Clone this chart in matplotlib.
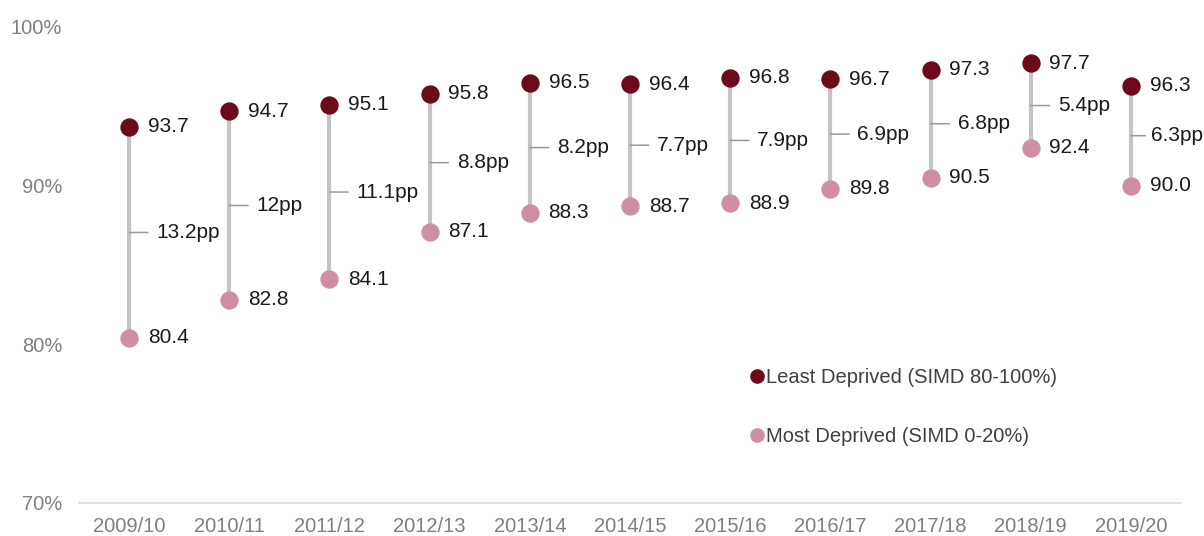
import matplotlib
matplotlib.use("Agg")
import matplotlib.pyplot as plt
from matplotlib.lines import Line2D

plt.rcParams['font.family'] = ['Liberation Sans', 'DejaVu Sans']

years = ["2009/10", "2010/11", "2011/12", "2012/13", "2013/14", "2014/15",
         "2015/16", "2016/17", "2017/18", "2018/19", "2019/20"]
least = [93.7, 94.7, 95.1, 95.8, 96.5, 96.4, 96.8, 96.7, 97.3, 97.7, 96.3]
most = [80.4, 82.8, 84.1, 87.1, 88.3, 88.7, 88.9, 89.8, 90.5, 92.4, 90.0]
gap_labels = ["13.2pp", "12pp", "11.1pp", "8.8pp", "8.2pp", "7.7pp",
              "7.9pp", "6.9pp", "6.8pp", "5.4pp", "6.3pp"]
y_ticks = [70, 80, 90, 100]

c_least = "#6a0a1b"
c_most = "#d08ea2"
c_line = "#c4c4c4"

fig = plt.figure(figsize=(12.04, 5.36), dpi=100)
ax = fig.add_axes([79/1204, 33/536, 1102/1204, 476/536])

x = list(range(len(years)))
n = len(years)
for i in x:
    ax.plot([i, i], [most[i], least[i]], color=c_line, lw=3, zorder=1,
            solid_capstyle='butt')
    mid = (most[i] + least[i]) / 2
    last = (i == n - 1)
    tick_len = 10.5 if last else 13.5
    lab_off = 14.5 if last else 19.5
    ax.annotate(gap_labels[i], xy=(i, mid), xytext=(lab_off, 0), textcoords='offset points',
                va='center', ha='left', fontsize=15, color="#1a1a1a")
    ax.annotate("", xy=(i, mid), xytext=(tick_len, 0), textcoords='offset points',
                arrowprops=dict(arrowstyle='-', color="#9a9a9a", lw=1.1,
                                shrinkA=0, shrinkB=0))
    ax.annotate(f"{least[i]:.1f}", xy=(i, least[i]), xytext=(13.5, 0),
                textcoords='offset points', va='center', ha='left',
                fontsize=15, color="#1a1a1a")
    ax.annotate(f"{most[i]:.1f}", xy=(i, most[i]), xytext=(13.5, 0),
                textcoords='offset points', va='center', ha='left',
                fontsize=15, color="#1a1a1a")

ax.plot(x, least, 'o', color=c_least, ms=12.2, zorder=3, lw=0)
ax.plot(x, most, 'o', color=c_most, ms=12.2, zorder=3, lw=0)

ax.set_xlim(-0.5, n - 0.5)
ax.set_ylim(70, 100)
ax.set_yticks(y_ticks)
ax.set_yticklabels([f"{v}%" for v in y_ticks])
ax.set_xticks(x)
ax.set_xticklabels(years)
ax.tick_params(axis='both', length=0, labelsize=14.5, labelcolor="#7f7f7f")
ax.tick_params(axis='y', pad=12)
ax.tick_params(axis='x', pad=10)
for s in ['top', 'right', 'left']:
    ax.spines[s].set_visible(False)
ax.spines['bottom'].set_color("#d9d9d9")
ax.spines['bottom'].set_linewidth(1.2)

handles = [Line2D([], [], marker='o', ls='', color=c_least, ms=9.5),
           Line2D([], [], marker='o', ls='', color=c_most, ms=9.5)]
leg = ax.legend(handles, ["Least Deprived (SIMD 80-100%)", "Most Deprived (SIMD 0-20%)"],
                loc='upper left', bbox_to_anchor=(0.61, 0.284), frameon=False,
                fontsize=14.5, handlelength=0.6, handletextpad=0.15,
                labelspacing=2.0, borderaxespad=0, borderpad=0)
for t in leg.get_texts():
    t.set_color("#404040")

fig.savefig("out.png", dpi=100)
